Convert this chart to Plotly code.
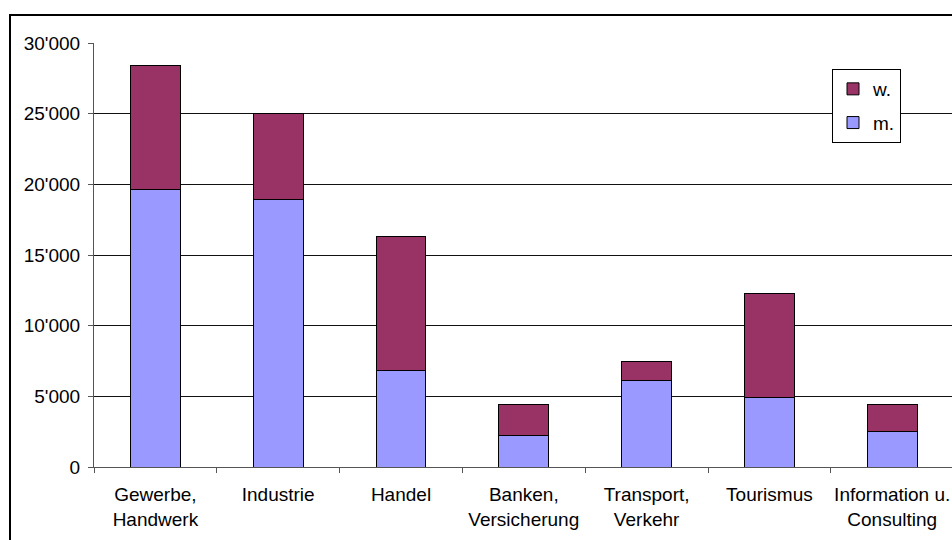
import plotly.graph_objects as go

# Beschäftigte nach Branche und Geschlecht
branchen = [
    "Gewerbe,<br>Handwerk",
    "Industrie",
    "Handel",
    "Banken,<br>Versicherung",
    "Transport,<br>Verkehr",
    "Tourismus",
    "Information u.<br>Consulting",
]
maenner = [19600, 18900, 6800, 2200, 6100, 4900, 2500]
frauen = [8800, 6100, 9500, 2200, 1400, 7400, 1950]
y_ticks = [0, 5000, 10000, 15000, 20000, 25000, 30000]

W, H = 952, 540
L, R, T, B = 94, 0, 43, 73
FONT = dict(family="Liberation Sans, Arial, sans-serif", size=19, color="#000000")


def px_x(px):
    return (px - L) / (W - L - R)


def px_y(py):
    return (H - B - py) / (H - T - B)


fig = go.Figure()
fig.add_trace(go.Bar(
    x=branchen, y=maenner, name="m.", legendgroup="m", legendrank=2,
    marker=dict(color="#9999FF", line=dict(color="#000000", width=1)),
    width=0.405,
))
fig.add_trace(go.Bar(
    x=branchen, y=frauen, name="w.", legendgroup="w", legendrank=1,
    marker=dict(color="#993366", line=dict(color="#000000", width=1)),
    width=0.405,
))

# outer chart frame (only top and left edges fall inside the page)
fig.add_shape(
    type="rect", xref="paper", yref="paper",
    x0=px_x(10), x1=px_x(W + 20), y0=px_y(15), y1=px_y(H + 20),
    line=dict(color="#000000", width=2), fillcolor="rgba(0,0,0,0)",
    layer="above",
)

fig.update_layout(
    width=W, height=H,
    margin=dict(l=L, r=R, t=T, b=B, pad=0),
    barmode="stack",
    paper_bgcolor="#FFFFFF",
    plot_bgcolor="#FFFFFF",
    font=FONT,
    separators=".'",
    showlegend=True,
    legend=dict(
        x=px_x(832), y=px_y(69), xanchor="left", yanchor="top",
        bgcolor="#FFFFFF", bordercolor="#000000", borderwidth=1,
        traceorder="grouped", tracegroupgap=6,
        font=FONT,
    ),
    xaxis=dict(
        range=[-0.5, 6.5 - 1.6 / 122.8],
        showline=True, linecolor="#555555", linewidth=1,
        ticks="outside", ticklen=5, tickcolor="#555555", tickson="boundaries",
        ticklabelstandoff=10,
        showgrid=False, zeroline=False,
        tickfont=FONT,
    ),
    yaxis=dict(
        range=[0, 30000],
        tickvals=y_ticks, tickformat=",d",
        showline=True, linecolor="#555555", linewidth=1,
        ticks="outside", ticklen=5, tickcolor="#555555",
        ticklabelstandoff=4,
        showgrid=True, gridcolor="#111111", gridwidth=1,
        zeroline=False,
        tickfont=FONT,
    ),
)

fig.write_html("out.html")
